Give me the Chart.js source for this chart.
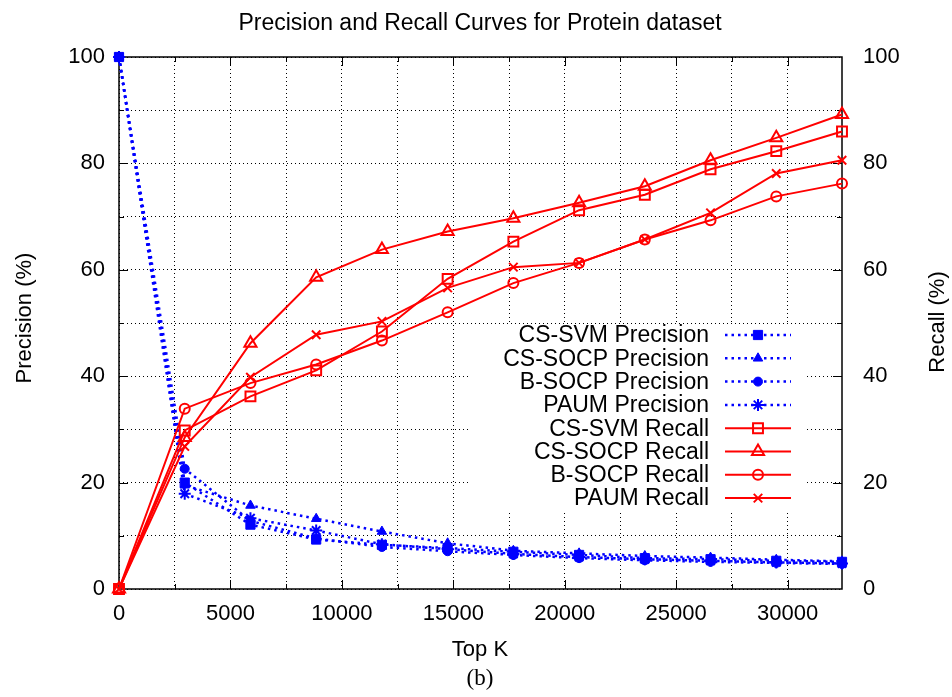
<!DOCTYPE html>
<html>
<head>
<meta charset="utf-8">
<title>Precision and Recall Curves for Protein dataset</title>
<script src="https://cdn.jsdelivr.net/npm/chart.js@4.4.1/dist/chart.umd.min.js"></script>
<style>
  html, body { margin: 0; padding: 0; background: #fff; }
  canvas { display: block; }
</style>
</head>
<body>
<canvas id="prChart" width="952" height="697"></canvas>
<script>
// Values (b).
const topK = [0, 2949, 5898, 8847, 11796, 14745, 17694, 20643, 23592, 26541, 29490, 32439];

const csSvmPrecision = [100, 20.0, 12.1, 9.3, 8.3, 7.7, 7.0, 6.4, 5.8, 5.6, 5.3, 5.1];
const csSocpPrecision = [100, 19.5, 15.7, 13.2, 10.8, 8.6, 7.2, 6.7, 6.2, 5.9, 5.5, 5.2];
const bSocpPrecision = [100, 22.6, 12.8, 9.5, 7.9, 7.1, 6.4, 5.8, 5.4, 5.1, 4.9, 4.7];
const paumPrecision = [100, 17.9, 13.3, 11.0, 8.4, 7.5, 6.6, 6.0, 5.6, 5.3, 5.0, 4.8];

const csSvmRecall = [0, 29.8, 36.2, 41.1, 48.4, 58.3, 65.3, 71.2, 74.1, 78.9, 82.3, 86.0];
const csSocpRecall = [0, 28.5, 46.2, 58.6, 63.8, 67.2, 69.7, 72.6, 75.7, 80.6, 84.8, 89.2];
const bSocpRecall = [0, 33.9, 38.7, 42.2, 46.7, 52.0, 57.5, 61.3, 65.7, 69.3, 73.8, 76.2];
const paumRecall = [0, 26.8, 39.8, 47.8, 50.3, 56.6, 60.5, 61.3, 65.7, 70.7, 78.1, 80.6];

// x ticks every 2500 (grid + minor tick), labelled every 5000
const xTickValues = [0, 2500, 5000, 7500, 10000, 12500, 15000, 17500, 20000, 22500, 25000, 27500, 30000];

const FONT = "'Liberation Sans', Arial, Helvetica, sans-serif";
const BLUE = '#0000ff';
const RED = '#ff0000';

function points(values) {
  return topK.map((k, i) => ({ x: k, y: values[i] }));
}

function precisionSet(label, values, style, radius, filled) {
  return {
    label,
    data: points(values),
    yAxisID: 'y',
    order: 1,
    borderColor: BLUE,
    borderWidth: 2.5,
    borderDash: [2.5, 4],
    pointStyle: style,
    pointRadius: radius,
    pointBorderColor: BLUE,
    pointBackgroundColor: filled ? BLUE : 'rgba(0,0,0,0)',
    pointBorderWidth: filled ? 1 : 2,
    tension: 0,
    clip: false,
  };
}

function recallSet(label, values, style, radius) {
  return {
    label,
    data: points(values),
    yAxisID: 'y1',
    order: 0,
    borderColor: RED,
    borderWidth: 2,
    pointStyle: style,
    pointRadius: radius,
    pointBorderColor: RED,
    pointBackgroundColor: 'rgba(0,0,0,0)',
    pointBorderWidth: 2,
    tension: 0,
    clip: false,
  };
}

const datasets = [
  precisionSet('CS-SVM Precision', csSvmPrecision, 'rect', 6.5, true),
  precisionSet('CS-SOCP Precision', csSocpPrecision, 'triangle', 5.5, true),
  precisionSet('B-SOCP Precision', bSocpPrecision, 'circle', 4.5, true),
  precisionSet('PAUM Precision', paumPrecision, 'star', 6, false),
  recallSet('CS-SVM Recall', csSvmRecall, 'rect', 7),
  recallSet('CS-SOCP Recall', csSocpRecall, 'triangle', 7),
  recallSet('B-SOCP Recall', bSocpRecall, 'circle', 5),
  recallSet('PAUM Recall', paumRecall, 'crossRot', 6),
];

// gnuplot look: solid frame, inward major/minor ticks mirrored on all sides,
// an opaque key inside the plot, and the titles placed like the original.
const gnuplotDecor = {
  id: 'gnuplotDecor',
  beforeDatasetsDraw(chart) {
    const { ctx, chartArea: a, scales } = chart;
    ctx.save();
    ctx.strokeStyle = '#000';
    ctx.lineWidth = 1;
    ctx.setLineDash([]);
    ctx.beginPath();
    scales.x.ticks.forEach(t => {
      if (t.value <= scales.x.min || t.value >= scales.x.max) return;
      const px = Math.round(scales.x.getPixelForValue(t.value)) + 0.5;
      const len = t.value % 5000 === 0 ? 9 : 5;
      ctx.moveTo(px, a.bottom); ctx.lineTo(px, a.bottom - len);
      ctx.moveTo(px, a.top); ctx.lineTo(px, a.top + len);
    });
    [['y', a.left, 1], ['y1', a.right, -1]].forEach(([id, edge, dir]) => {
      const s = scales[id];
      s.ticks.forEach(t => {
        if (t.value <= s.min || t.value >= s.max) return;
        const py = Math.round(s.getPixelForValue(t.value)) + 0.5;
        const len = t.value % 20 === 0 ? 9 : 5;
        ctx.moveTo(edge, py); ctx.lineTo(edge + dir * len, py);
      });
    });
    ctx.stroke();
    ctx.lineWidth = 1.5;
    ctx.strokeRect(a.left, a.top, a.right - a.left, a.bottom - a.top);
    ctx.restore();
  },
  afterDatasetsDraw(chart) {
    const { ctx } = chart;
    const key = { left: 470, top: 324, right: 805, bottom: 512 };
    const textRight = 709;
    const lineFrom = 725, lineTo = 791, markX = 758;
    const firstRow = 335, rowStep = 23.3;
    ctx.save();
    ctx.fillStyle = '#fff';
    ctx.fillRect(key.left, key.top, key.right - key.left, key.bottom - key.top);
    ctx.font = `23px ${FONT}`;
    ctx.textAlign = 'right';
    ctx.textBaseline = 'middle';
    chart.data.datasets.forEach((ds, i) => {
      const y = firstRow + i * rowStep;
      ctx.fillStyle = '#000';
      ctx.fillText(ds.label, textRight, y + 1);
      ctx.strokeStyle = ds.borderColor;
      ctx.lineWidth = ds.borderWidth;
      ctx.setLineDash(ds.borderDash || []);
      ctx.beginPath();
      ctx.moveTo(lineFrom, y);
      ctx.lineTo(lineTo, y);
      ctx.stroke();
      ctx.setLineDash([]);
      ctx.fillStyle = ds.pointBackgroundColor;
      ctx.strokeStyle = ds.pointBorderColor;
      ctx.lineWidth = ds.pointBorderWidth;
      Chart.helpers.drawPoint(ctx, {
        pointStyle: ds.pointStyle,
        radius: ds.pointRadius,
        rotation: 0,
        borderWidth: ds.pointBorderWidth,
      }, markX, y);
    });
    ctx.restore();
  },
  afterDraw(chart) {
    const { ctx } = chart;
    ctx.save();
    ctx.fillStyle = '#000';
    ctx.textAlign = 'center';
    ctx.textBaseline = 'alphabetic';
    ctx.font = `23px ${FONT}`;
    ctx.fillText('Precision and Recall Curves for Protein dataset', 480, 29.5);
    ctx.font = `22px ${FONT}`;
    ctx.fillText('Top K', 480, 655.5);
    ctx.font = "23px 'Liberation Serif', 'DejaVu Serif', serif";
    ctx.fillText('(b)', 480, 685);
    ctx.font = `22px ${FONT}`;
    ctx.translate(31, 318);
    ctx.rotate(-Math.PI / 2);
    ctx.fillText('Precision (%)', 0, 0);
    ctx.restore();
    ctx.save();
    ctx.fillStyle = '#000';
    ctx.textAlign = 'center';
    ctx.font = `22px ${FONT}`;
    ctx.translate(944, 322);
    ctx.rotate(-Math.PI / 2);
    ctx.fillText('Recall (%)', 0, 0);
    ctx.restore();
  },
};

const gridLines = { color: '#000', lineWidth: 1, drawTicks: false };
const dotted = { display: false, dash: [1, 3] };
const tickFont = { family: FONT, size: 22 };

new Chart(document.getElementById('prChart'), {
  type: 'line',
  data: { datasets },
  options: {
    responsive: false,
    animation: false,
    layout: { padding: { top: 57, left: 0, right: 0, bottom: 0 } },
    scales: {
      x: {
        type: 'linear',
        min: 0,
        max: topK[topK.length - 1],
        grid: gridLines,
        border: dotted,
        afterFit: s => { s.height = 108; },
        afterBuildTicks: s => { s.ticks = xTickValues.map(v => ({ value: v })); },
        ticks: {
          autoSkip: false,
          maxRotation: 0,
          padding: 12,
          color: '#000',
          font: tickFont,
          callback: v => (v % 5000 === 0 ? String(v) : ''),
        },
      },
      y: {
        position: 'left',
        min: 0,
        max: 100,
        grid: gridLines,
        border: dotted,
        afterFit: s => { s.width = 119; },
        ticks: {
          stepSize: 10,
          autoSkip: false,
          padding: 14,
          color: '#000',
          font: tickFont,
          callback: v => (v % 20 === 0 ? String(v) : ''),
        },
      },
      y1: {
        position: 'right',
        min: 0,
        max: 100,
        grid: { display: false, drawTicks: false },
        border: { display: false },
        afterFit: s => { s.width = 110; },
        ticks: {
          stepSize: 10,
          autoSkip: false,
          padding: 21,
          color: '#000',
          font: tickFont,
          callback: v => (v % 20 === 0 ? String(v) : ''),
        },
      },
    },
    plugins: {
      legend: { display: false },
      tooltip: { enabled: false },
    },
  },
  plugins: [gnuplotDecor],
});
</script>
</body>
</html>
